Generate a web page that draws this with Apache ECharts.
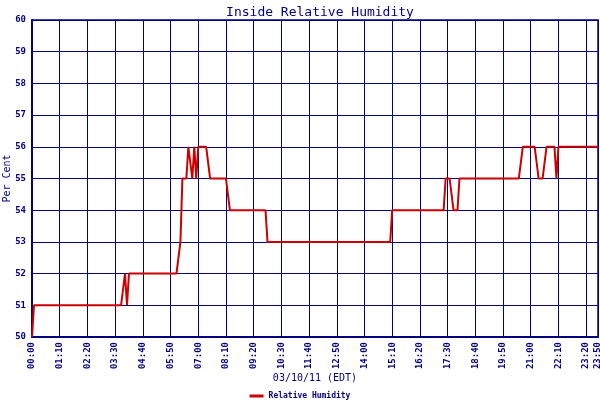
<!DOCTYPE html>
<html><head><meta charset="utf-8">
<script src="https://cdn.jsdelivr.net/npm/echarts@6/dist/echarts.min.js"></script>
<style>html,body{margin:0;padding:0;background:#fff}#c{width:600px;height:400px}</style>
</head><body><div id="c"></div>
<script>
const chartTitle = 'Inside Relative Humidity';
const seriesName = 'Relative Humidity';
const xAxisName = '03/10/11 (EDT)';
const yAxisName = 'Per Cent';
const yMin = 50, yMax = 60;
const labelTimes = ['00:00','01:10','02:20','03:30','04:40','05:50','07:00','08:10','09:20','10:30','11:40','12:50','14:00','15:10','16:20','17:30','18:40','19:50','21:00','22:10','23:20','23:50'];

// 5-minute samples, 00:00 .. 23:50
const times = [];
for (let h = 0; h < 24; h++) {
  for (let m = 0; m < 60; m += 5) {
    if (h === 23 && m > 50) break;
    times.push(String(h).padStart(2,'0') + ':' + String(m).padStart(2,'0'));
  }
}
const humidity = [
  50,51,51,51,51,51,51,51,51,51,51,51, // 00
  51,51,51,51,51,51,51,51,51,51,51,51, // 01
  51,51,51,51,51,51,51,51,51,51,51,51, // 02
  51,51,51,51,51,51,51,51,51,51,51,52, // 03
  51,52,52,52,52,52,52,52,52,52,52,52, // 04
  52,52,52,52,52,52,52,52,52,52,52,52, // 05
  52,52,52,53,55,55,55,56,56,55,56,55, // 06
  56,56,56,56,56,56,55,55,55,55,55,55, // 07
  55,55,55,55,54,54,54,54,54,54,54,54, // 08
  54,54,54,54,54,54,54,54,54,54,54,53, // 09
  53,53,53,53,53,53,53,53,53,53,53,53, // 10
  53,53,53,53,53,53,53,53,53,53,53,53, // 11
  53,53,53,53,53,53,53,53,53,53,53,53, // 12
  53,53,53,53,53,53,53,53,53,53,53,53, // 13
  53,53,53,53,53,53,53,53,53,53,53,53, // 14
  53,53,54,54,54,54,54,54,54,54,54,54, // 15
  54,54,54,54,54,54,54,54,54,54,54,54, // 16
  54,54,54,54,54,55,55,55,55,54,54,54, // 17
  55,55,55,55,55,55,55,55,55,55,55,55, // 18
  55,55,55,55,55,55,55,55,55,55,55,55, // 19
  55,55,55,55,55,55,55,55,56,56,56,56, // 20
  56,56,56,56,55,55,55,55,56,56,56,56, // 21
  56,55,56,56,56,56,56,56,56,56,56,56, // 22
  56,56,56,56,56,56,56,56,56,56,56     // 23
];

const navy = '#000080';
const font = 'DejaVu Sans Mono';
const showIdx = (i) => labelTimes.indexOf(times[i]) >= 0;

const chart = echarts.init(document.getElementById('c'), null, {renderer: 'canvas'});
chart.setOption({
  animation: false,
  backgroundColor: '#fff',
  title: {
    text: chartTitle, left: 315, textAlign: 'center', top: 1,
    textStyle: {color: navy, fontFamily: font, fontSize: 13, fontWeight: 'normal'}
  },
  legend: {
    top: 387, left: 'center', itemWidth: 14, itemHeight: 3, icon: 'rect',
    textStyle: {color: navy, fontFamily: font, fontSize: 8, fontWeight: 'bold'},
    data: [seriesName]
  },
  grid: {left: 32, right: 2, top: 20, bottom: 63, containLabel: false, outerBoundsMode: 'none',
    show: true, borderColor: navy, borderWidth: 1.5},
  xAxis: {
    type: 'category', data: times, boundaryGap: false,
    name: xAxisName, nameLocation: 'middle', nameGap: 36, nameMoveOverlap: false,
    nameTextStyle: {color: navy, fontFamily: font, fontSize: 10},
    axisLine: {lineStyle: {color: navy, width: 2}},
    axisTick: {show: false},
    axisLabel: {interval: (i) => showIdx(i), rotate: 90, color: navy, fontFamily: font, fontSize: 9, fontWeight: 'bold', margin: 5, hideOverlap: false},
    splitLine: {show: true, interval: (i) => showIdx(i), lineStyle: {color: navy, width: 1}}
  },
  yAxis: {
    type: 'value', min: yMin, max: yMax, interval: 1,
    name: yAxisName, nameLocation: 'middle', nameGap: 20, nameRotate: 90, nameMoveOverlap: false,
    nameTextStyle: {color: navy, fontFamily: font, fontSize: 10},
    axisLine: {show: true, lineStyle: {color: navy, width: 2}},
    axisTick: {show: false},
    axisLabel: {color: navy, fontFamily: font, fontSize: 9, fontWeight: 'bold', margin: 6},
    splitLine: {show: true, lineStyle: {color: navy, width: 1}}
  },
  series: [{
    name: seriesName, type: 'line', data: humidity, showSymbol: false, symbol: 'none',
    lineStyle: {color: '#cc0000', width: 2}, itemStyle: {color: '#cc0000'}
  }]
});
</script></body></html>
